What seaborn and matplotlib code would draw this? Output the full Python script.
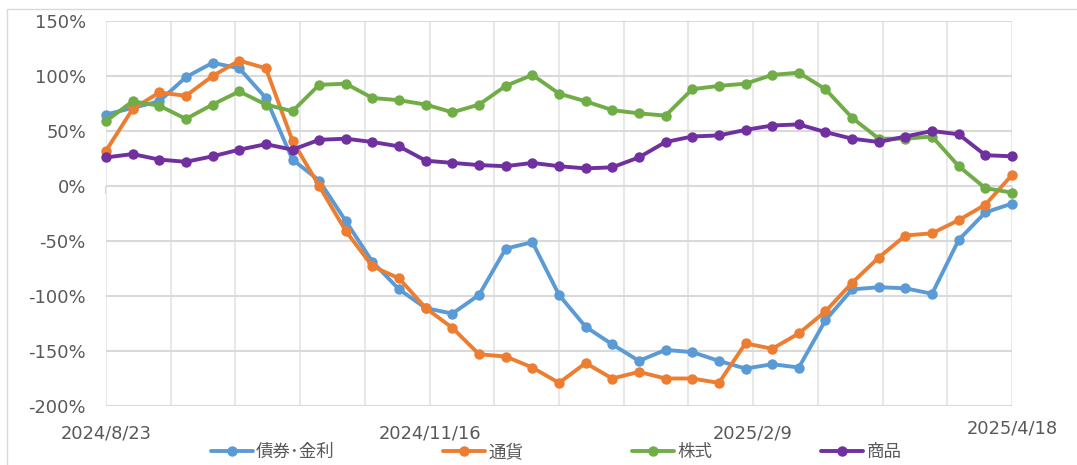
import pandas as pd
import numpy as np
import matplotlib
matplotlib.use("Agg")
import matplotlib.pyplot as plt
from matplotlib.patches import Rectangle
from matplotlib.ticker import FuncFormatter
import seaborn as sns


# weekly observations, 2024/8/23 .. 2025/4/18
start_date = "2024-08-23"
end_date = "2025-04-18"
dates = pd.date_range(start_date, end_date, freq="7D")

series_names = ["債券･金利", "通貨", "株式", "商品"]
bonds = [65, 71, 77, 99, 112, 107, 80, 24, 5, -32, -69, -94, -111, -116, -99,
         -57, -51, -99, -128, -144, -159, -149, -151, -159, -166, -162, -165,
         -122, -94, -92, -93, -98, -49, -24, -16]
currency = [32, 70, 85, 82, 100, 114, 107, 41, 0, -41, -73, -84, -111, -129, -153,
            -155, -165, -179, -161, -175, -169, -175, -175, -179, -143, -148, -134,
            -114, -88, -65, -45, -43, -31, -17, 10]
stocks = [59, 77, 73, 61, 74, 86, 74, 68, 92, 93, 80, 78, 74, 67, 74,
          91, 101, 84, 77, 69, 66, 64, 88, 91, 93, 101, 103,
          88, 62, 43, 43, 45, 18, -2, -6]
commodities = [26, 29, 24, 22, 27, 33, 38, 33, 42, 43, 40, 36, 23, 21, 19,
               18, 21, 18, 16, 17, 26, 40, 45, 46, 51, 55, 56,
               49, 43, 40, 45, 50, 47, 28, 27]

tick_labels = {0: "2024/8/23", 5: "2024/11/16", 10: "2025/2/9", 14: "2025/4/18"}
colors = ["#5B9BD5", "#ED7D31", "#70AD47", "#7030A0"]

df = pd.DataFrame({"date": dates, series_names[0]: bonds, series_names[1]: currency,
                   series_names[2]: stocks, series_names[3]: commodities})
long_df = df.melt(id_vars="date", var_name="series", value_name="value")

sns.set_style("white")
plt.rcParams["font.family"] = ["DejaVu Sans", "Noto Sans CJK JP"]
text_color = "#595959"

fig, ax = plt.subplots(figsize=(10.77, 4.65), dpi=100)
fig.subplots_adjust(left=106 / 1077, right=1012 / 1077, top=1 - 21 / 465, bottom=1 - 406 / 465)

sns.lineplot(data=long_df, x="date", y="value", hue="series", hue_order=series_names,
             palette=colors, marker="o", markersize=7.5, markeredgewidth=0,
             linewidth=2.8, legend=False, ax=ax, clip_on=False, zorder=3)

ax.set_ylim(-200, 150)
ax.set_yticks(np.arange(-200, 151, 50))
ax.yaxis.set_major_formatter(FuncFormatter(lambda v, p: f"{v:.0f}%"))
ax.set_xlim(pd.Timestamp(start_date), pd.Timestamp(end_date))

grid_dates = pd.date_range(start_date, end_date, freq="17D")
ax.set_xticks(grid_dates)
ax.set_xticklabels([tick_labels.get(i, "") for i in range(len(grid_dates))])
ax.set_xlabel("")
ax.set_ylabel("")

ax.grid(axis="y", color="#d9d9d9", linewidth=1.5)
ax.grid(axis="x", color="#e8e8e8", linewidth=1.5)
ax.set_axisbelow(True)
for s in ax.spines.values():
    s.set_visible(False)
ax.tick_params(axis="both", length=0, labelsize=12.9, colors=text_color)
ax.tick_params(axis="y", pad=14.5)
ax.tick_params(axis="x", pad=13)

# small tick marks on the zero line
sec = ax.secondary_xaxis(200 / 350)
sec.set_xticks(grid_dates[list(tick_labels.keys())])
sec.tick_params(direction="in", length=6, color="#cfcfcf", width=1.2, labeltop=False, labelbottom=False)
for s in sec.spines.values():
    s.set_visible(False)

last = ax.get_xticklabels()[14]
last.set_y(0.013)

handles = ax.get_lines()[:4]
ax.legend(handles, series_names, loc="center", bbox_to_anchor=(0.497, -0.12), ncol=4,
          frameon=False, fontsize=12.6, handlelength=2.4, handletextpad=0.2,
          columnspacing=6.2, labelcolor=text_color)

fig.patches.append(Rectangle((7 / 1077, -0.05), 1.2, 1.05 - 9 / 465, transform=fig.transFigure,
                             fill=False, edgecolor="#d9d9d9", linewidth=1))

fig.savefig("out.png", dpi=100)
